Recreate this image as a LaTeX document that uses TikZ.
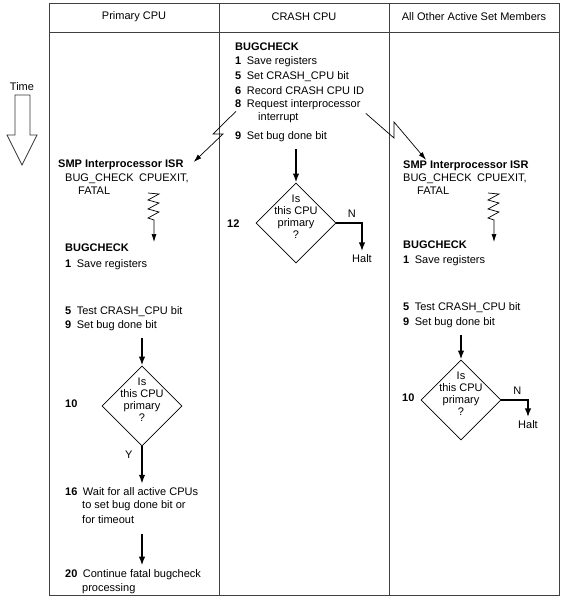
\documentclass[tikz,border=0pt]{standalone}
\usepackage{fontspec}
\setmainfont{Liberation Sans}
\usetikzlibrary{calc,shapes.geometric,arrows.meta}

\begin{document}
\begin{tikzpicture}[x=1pt,y=-1pt,
    every node/.style={font=\fontsize{11}{13}\selectfont},
    txt/.style={anchor=west,inner sep=1pt},
    decision/.style={diamond,draw,line width=0.8pt,minimum width=80pt,minimum height=80pt,inner sep=0pt},
    qtext/.style={align=center,inner sep=0pt,font=\fontsize{11}{12}\selectfont},
    flow/.style={-{Latex[length=9pt,width=6.5pt]},line width=2.2pt},
    zap/.style={-{Latex[length=8pt,width=5pt]},line width=0.7pt},
    frame/.style={draw=black!75,line width=0.9pt}]
        \useasboundingbox (0,0) rectangle (567,598);
        \draw[frame] (49,3) rectangle (559,595);
        \draw[frame] (49,32) -- (559,32);
        \draw[frame] (219,3) -- (219,595);
        \draw[frame] (389,3) -- (389,595);
        \node (hprim) at (134,17) {Primary CPU};
        \node (hcrash) at (304,17) {CRASH CPU};
        \node (hother) at (474,17) {All Other Active Set Members};
        \node (time) at (22,87) {Time};
        \draw[draw=black!80,line width=0.7pt] (15,95) -- (30,95) -- (30,135) -- (37,135) -- (22,165) -- (7,135) -- (15,135) -- cycle;
        % crash cpu
        \node[txt] (crashbc) at (234,47) {\textbf{BUGCHECK}};
        \node[txt] (crashsave) at (234,62) {\textbf{1}\enspace Save registers};
        \node[txt] (crashset) at (234,77) {\textbf{5}\enspace Set CRASH\_CPU bit};
        \node[txt] (crashrec) at (234,91) {\textbf{6}\enspace Record CRASH CPU ID};
        \node[txt] (crashreq) at (234,105) {\textbf{8}\enspace Request interprocessor};
        \node[txt] (crashint) at (257,118) {interrupt};
        \node[txt] (crashdone) at (234,137) {\textbf{9}\enspace Set bug done bit};
        \node[decision] (crashq) at (296,223) {};
        \node[qtext] (crashqt) at ($(crashq.center)+(0,-6)$) {Is\\this CPU\\primary\\?};
        \node[txt] (crashnum) at (226,224) {\textbf{12}};
        \node (crashhalt) at (362,259) {Halt};
        \draw[flow,shorten <=6pt] (crashq.north |- crashdone.south) -- (crashq.north);
        \draw[flow] (crashq.east) -| node[pos=0.3,above=1pt] (crashn) {N} (crashhalt.north);
        % primary cpu
        \node[txt] (primisr) at (57,165) {\textbf{SMP Interprocessor ISR}};
        \node[txt] (primmac) at (64,179) {BUG\_CHECK\enspace CPUEXIT,};
        \node[txt] (primfatal) at (77,191) {FATAL};
        \node[txt] (primbc) at (64,248) {\textbf{BUGCHECK}};
        \node[txt] (primsave) at (64,265) {\textbf{1}\enspace Save registers};
        \node[txt] (primtest) at (64,312) {\textbf{5}\enspace Test CRASH\_CPU bit};
        \node[txt] (primdone) at (64,326) {\textbf{9}\enspace Set bug done bit};
        \node[decision] (primq) at (142,406) {};
        \node[qtext] (primqt) at ($(primq.center)+(0,-6)$) {Is\\this CPU\\primary\\?};
        \node[txt] (primnum) at (64,404) {\textbf{10}};
        \node[txt] (primwait) at (64,492) {\textbf{16}\enspace Wait for all active CPUs};
        \node[txt] (primwaitb) at (81,506) {to set bug done bit or};
        \node[txt] (primwaitc) at (81,520) {for timeout};
        \node[txt] (primcont) at (64,575) {\textbf{20}\enspace Continue fatal bugcheck};
        \node[txt] (primcontb) at (81,589) {processing};
        \coordinate (primspr) at (148,193);
        \draw[zap] (primspr) -- ++(11,1) -- ++(-11,6) -- ++(11,3) -- ++(-11,6) -- ++(11,3) -- ++(-11,6) -- ++(6,2) -- ++(0,22);
        \draw[flow,shorten <=6pt] (primq.north |- primdone.south) -- (primq.north);
        \draw[flow,shorten >=3pt] (primq.south) -- node[pos=0.2,left=5pt] (primy) {Y} (primq.south |- primwait.north);
        \draw[flow,shorten <=9pt,shorten >=3pt] (primq.south |- primwaitc.south) -- (primq.south |- primcont.north);
        % other members
        \node[txt] (othisr) at (402,166) {\textbf{SMP Interprocessor ISR}};
        \node[txt] (othmac) at (402,179) {BUG\_CHECK\enspace CPUEXIT,};
        \node[txt] (othfatal) at (416,191) {FATAL};
        \node[txt] (othbc) at (402,245) {\textbf{BUGCHECK}};
        \node[txt] (othsave) at (402,261) {\textbf{1}\enspace Save registers};
        \node[txt] (othtest) at (402,308) {\textbf{5}\enspace Test CRASH\_CPU bit};
        \node[txt] (othdone) at (402,323) {\textbf{9}\enspace Set bug done bit};
        \node[decision] (othq) at (461,400) {};
        \node[qtext] (othqt) at ($(othq.center)+(0,-6)$) {Is\\this CPU\\primary\\?};
        \node[txt] (othnum) at (401,398) {\textbf{10}};
        \node (othhalt) at (528,425) {Halt};
        \coordinate (othspr) at (488,193);
        \draw[zap] (othspr) -- ++(11,1) -- ++(-11,6) -- ++(11,3) -- ++(-11,6) -- ++(11,3) -- ++(-11,6) -- ++(6,2) -- ++(0,22);
        \draw[flow,shorten <=6pt] (othq.north |- othdone.south) -- (othq.north);
        \draw[flow] (othq.east) -| node[pos=0.3,above=1pt] (othn) {N} (othhalt.north);
        % interrupts
        \draw[zap] ($(crashreq.south west)+(2,0)$) -- (213,134) -- (223,134) -- ($(primisr.east)+(9,-3)$);
        \draw[zap] ($(crashreq.south east)+(4,2)$) -- (394,138) -- (394,122) -- ($(othisr.north west)+(24,0)$);
    \end{tikzpicture}
\end{document}
